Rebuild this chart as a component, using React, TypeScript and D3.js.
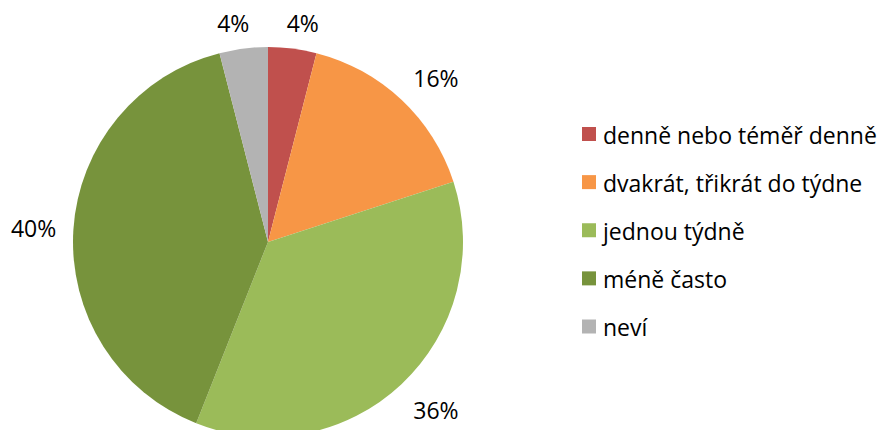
import React from "react";
import * as d3 from "d3";

const categories = [
  "denně nebo téměř denně",
  "dvakrát, třikrát do týdne",
  "jednou týdně",
  "méně často",
  "neví",
];
const values = [4, 16, 36, 40, 4];
const labels = ["4%", "16%", "36%", "40%", "4%"];
const colors = ["#C0504D", "#F79646", "#9BBB59", "#77933C", "#B3B3B3"];

const W = 880;
const H = 430;
const cx = 268;
const cy = 242;
const R = 195;
const FONT = "'Open Sans', 'Noto Sans', sans-serif";
const FS = 23;

const clamp = (t: number) => Math.max(-1, Math.min(1, t));

export default function App() {
  const pie = d3.pie<number>().sort(null).value((d) => d);
  const arcs = pie(values);
  const arc = d3.arc<d3.PieArcDatum<number>>().innerRadius(0).outerRadius(R);

  const legendY = d3
    .scalePoint<string>()
    .domain(categories)
    .range([134.5, 327]);

  return (
    <svg
      width={W}
      height={H}
      style={{ position: "absolute", left: 0, top: 0, background: "#fff" }}
      fontFamily={FONT}
    >
      <g transform={`translate(${cx},${cy})`}>
        {arcs.map((a, i) => (
          <path key={i} d={arc(a) || ""} fill={colors[i]} />
        ))}
        {arcs.map((a, i) => {
          const mid = (a.startAngle + a.endAngle) / 2;
          const dx = Math.sin(mid);
          const dy = -Math.cos(mid);
          const w = ((labels[i].length - 1) * 0.572 + 0.84) * FS;
          const h = 22;
          const rr = R + 17;
          const x = dx * rr + (w / 2) * clamp(4 * dx);
          const y = dy * rr + (h / 2) * clamp(4 * dy) + 2;
          return (
            <text
              key={i}
              x={x}
              y={y}
              textAnchor="middle"
              dominantBaseline="central"
              fontSize={FS}
              fill="#000"
            >
              {labels[i]}
            </text>
          );
        })}
      </g>
      <g>
        {categories.map((c, i) => {
          const y = legendY(c) as number;
          return (
            <g key={c}>
              <rect x={582} y={y - 7.5} width={14} height={14} fill={colors[i]} />
              <text
                x={603}
                y={y}
                dominantBaseline="central"
                fontSize={FS}
                fill="#000"
              >
                {c}
              </text>
            </g>
          );
        })}
      </g>
    </svg>
  );
}
